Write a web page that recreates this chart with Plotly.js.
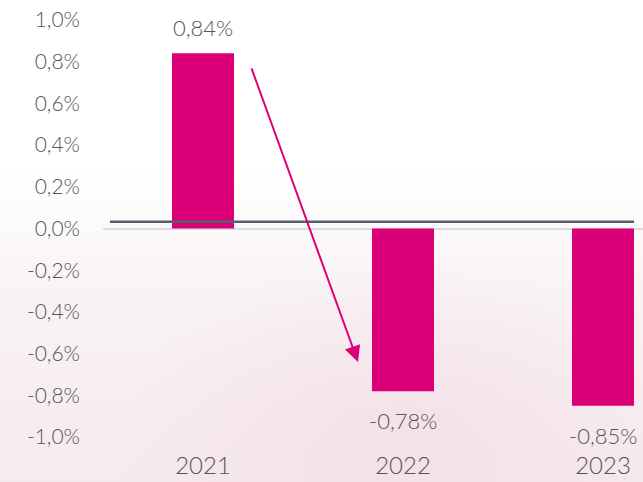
<!DOCTYPE html>
<html>
<head>
<meta charset="utf-8">
<script src="https://cdn.plot.ly/plotly-3.0.1.min.js"></script>
<style>
html, body { margin: 0; padding: 0; width: 643px; height: 482px; overflow: hidden; }
body {
  background:
    radial-gradient(ellipse 380px 240px at 400px 440px, rgba(242,214,226,0.55), rgba(255,255,255,0) 75%),
    linear-gradient(180deg, #ffffff 0%, #ffffff 35%, #f9f3f5 60%, #f6eaee 100%);
}
#chart { width: 643px; height: 482px; }
</style>
</head>
<body>
<div id="chart"></div>
<script>
const years = ["2021", "2022", "2023"];
const values = [0.84, -0.78, -0.85];
const valueLabels = ["0,84%", "-0,78%", "-0,85%"];
const yTickVals = [1.0, 0.8, 0.6, 0.4, 0.2, 0.0, -0.2, -0.4, -0.6, -0.8, -1.0];
const yTickText = ["1,0%", "0,8%", "0,6%", "0,4%", "0,2%", "0,0%", "-0,2%", "-0,4%", "-0,6%", "-0,8%", "-1,0%"];
const refLineValue = 0.032;
const arrowFrom = {x: 0.24, y: 0.775};
const arrowTo = {x: 0.775, y: -0.64};

const MAGENTA = "#dc0078";
const TEXT = "#555555";
const FONT = "Lato, 'Open Sans', sans-serif";

const trace = {
  type: "bar",
  x: [0, 1, 2],
  y: values,
  width: 0.31,
  marker: {color: MAGENTA},
  hoverinfo: "skip"
};

const labelAnns = values.map((v, i) => ({
  x: i, y: v, xref: "x", yref: "y",
  text: valueLabels[i], showarrow: false,
  yanchor: v >= 0 ? "bottom" : "top",
  yshift: v >= 0 ? 10 : -14,
  font: {family: FONT, size: 22, color: TEXT, weight: 300}
}));

const arrowAnn = {
  x: arrowTo.x, y: arrowTo.y, ax: arrowFrom.x, ay: arrowFrom.y,
  xref: "x", yref: "y", axref: "x", ayref: "y",
  showarrow: true, arrowhead: 2, arrowsize: 1.6, arrowwidth: 2,
  arrowcolor: MAGENTA, text: ""
};

const layout = {
  width: 643, height: 482,
  margin: {l: 103, r: 0, t: 20, b: 45, pad: 0},
  paper_bgcolor: "rgba(0,0,0,0)",
  plot_bgcolor: "rgba(0,0,0,0)",
  showlegend: false,
  xaxis: {
    range: [-0.5, 2.2],
    tickvals: [0, 1, 2], ticktext: years,
    showgrid: false, zeroline: false, showline: false,
    ticks: "", ticklabelstandoff: 12,
    tickfont: {family: FONT, size: 24, color: TEXT, weight: 300},
    fixedrange: true
  },
  yaxis: {
    range: [-1, 1],
    tickvals: yTickVals, ticktext: yTickText,
    showgrid: false, showline: false,
    zeroline: true, zerolinecolor: "#dcdcdc", zerolinewidth: 2,
    ticks: "", ticklabelstandoff: 22,
    tickfont: {family: FONT, size: 21, color: TEXT, weight: 300},
    fixedrange: true
  },
  shapes: [{
    type: "line", xref: "x", yref: "y",
    x0: -0.465, x1: 2.155, y0: refLineValue, y1: refLineValue,
    line: {color: "#56606c", width: 2.5},
    layer: "above"
  }],
  annotations: labelAnns.concat([arrowAnn])
};

Plotly.newPlot("chart", [trace], layout, {displayModeBar: false, staticPlot: true});
</script>
</body>
</html>
